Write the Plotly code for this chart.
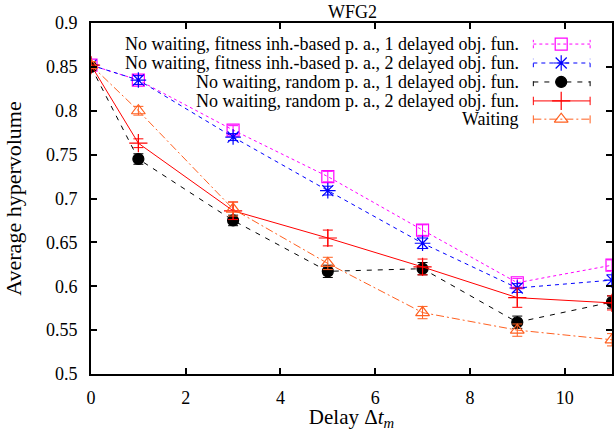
import plotly.graph_objects as go

x = [0, 1, 3, 5, 7, 9, 11]
names = [
    "No waiting, fitness inh.-based p. a., 1 delayed obj. fun.",
    "No waiting, fitness inh.-based p. a., 2 delayed obj. fun.",
    "No waiting, random p. a., 1 delayed obj. fun.",
    "No waiting, random p. a., 2 delayed obj. fun.",
    "Waiting",
]
fit1 = [0.852, 0.835, 0.778, 0.725, 0.664, 0.604, 0.624]
fit1_err = [0.004, 0.005, 0.005, 0.006, 0.006, 0.005, 0.006]
fit2 = [0.852, 0.835, 0.770, 0.709, 0.649, 0.598, 0.607]
fit2_err = [0.004, 0.005, 0.004, 0.005, 0.006, 0.005, 0.006]
rnd1 = [0.850, 0.745, 0.675, 0.617, 0.620, 0.559, 0.582]
rnd1_err = [0.004, 0.006, 0.006, 0.007, 0.007, 0.007, 0.007]
rnd2 = [0.852, 0.763, 0.686, 0.655, 0.622, 0.587, 0.581]
rnd2_err = [0.004, 0.005, 0.010, 0.009, 0.009, 0.011, 0.008]
wait = [0.852, 0.800, 0.688, 0.626, 0.570, 0.550, 0.539]
wait_err = [0.004, 0.005, 0.008, 0.007, 0.007, 0.007, 0.007]

series = [fit1, fit2, rnd1, rnd2, wait]
errors = [fit1_err, fit2_err, rnd1_err, rnd2_err, wait_err]
colors = ["#ff00ff", "#0000ff", "#000000", "#ff0000", "#ff6020"]
dashes = ["dot", "4px,4px", "5px,6px", "solid", "8px,3px,2px,3px"]
symbols = ["square-open", "asterisk-open", "circle", "cross-thin-open", "triangle-up-open"]
sizes = [12, 13, 11, 13, 12]

FONT = "Liberation Serif"
fig = go.Figure()
for name, y, e, c, d, s, sz in zip(names, series, errors, colors, dashes, symbols, sizes):
    fig.add_trace(go.Scatter(
        x=x, y=y, name=name, mode="lines+markers",
        line=dict(color=c, width=1, dash=d),
        marker=dict(symbol=s, size=sz, color=c, line=dict(color=c, width=1.2)),
        error_y=dict(type="data", array=e, visible=True, color=c, thickness=1, width=5),
        showlegend=False,
    ))

# custom legend (text left of sample, gnuplot style)
leg_y = [0.940, 0.886, 0.832, 0.778, 0.726]
x1, x2, xm = 0.849, 0.958, 0.9025
for name, c, d, s, sz, ly in zip(names, colors, dashes, symbols, sizes, leg_y):
    fig.add_annotation(x=0.826, y=ly, xref="paper", yref="paper", text=name,
                       showarrow=False, xanchor="right", yanchor="middle",
                       font=dict(family=FONT, size=18, color="black"))
    fig.add_trace(go.Scatter(x=[x1, x2], y=[ly, ly], xaxis="x2", yaxis="y2",
                             mode="lines", line=dict(color=c, width=1, dash=d),
                             showlegend=False, hoverinfo="skip"))
    fig.add_trace(go.Scatter(x=[xm], y=[ly], xaxis="x2", yaxis="y2", mode="markers",
                             marker=dict(symbol=s, size=sz, color=c, line=dict(color=c, width=1.2)),
                             showlegend=False, hoverinfo="skip"))
    for xe in (x1, x2):
        fig.add_shape(type="line", xref="x2", yref="y2", x0=xe, x1=xe,
                      y0=ly - 0.012, y1=ly + 0.012, line=dict(color=c, width=1, dash=d))

axis_common = dict(showline=True, linecolor="black", linewidth=2, mirror="ticks",
                   ticks="inside", ticklen=6, tickwidth=1.5, tickcolor="black",
                   showgrid=False, zeroline=False,
                   tickfont=dict(family=FONT, size=18, color="black"))
fig.update_layout(
    width=614, height=431,
    margin=dict(l=91, r=0, t=23, b=57),
    paper_bgcolor="white", plot_bgcolor="white",
    title=dict(text="WFG2", x=0.574, xanchor="center", y=0.972, yanchor="middle",
               font=dict(family=FONT, size=18, color="black")),
    xaxis=dict(range=[0, 11], tickvals=[0, 2, 4, 6, 8, 10], ticklabelstandoff=6,
               title=dict(text="Delay Δ<i>t<sub>m</sub></i>", standoff=4,
                          font=dict(family=FONT, size=21, color="black")),
               **axis_common),
    yaxis=dict(range=[0.5, 0.9], tickvals=[0.5, 0.55, 0.6, 0.65, 0.7, 0.75, 0.8, 0.85, 0.9],
               ticktext=["0.5", "0.55", "0.6", "0.65", "0.7", "0.75", "0.8", "0.85", "0.9"],
               ticklabelstandoff=8,
               title=dict(text="Average hypervolume", standoff=18,
                          font=dict(family=FONT, size=22, color="black")),
               **axis_common),
    xaxis2=dict(overlaying="x", range=[0, 1], visible=False, fixedrange=True),
    yaxis2=dict(overlaying="y", range=[0, 1], visible=False, fixedrange=True),
    showlegend=False,
)
fig.write_html("out.html")
